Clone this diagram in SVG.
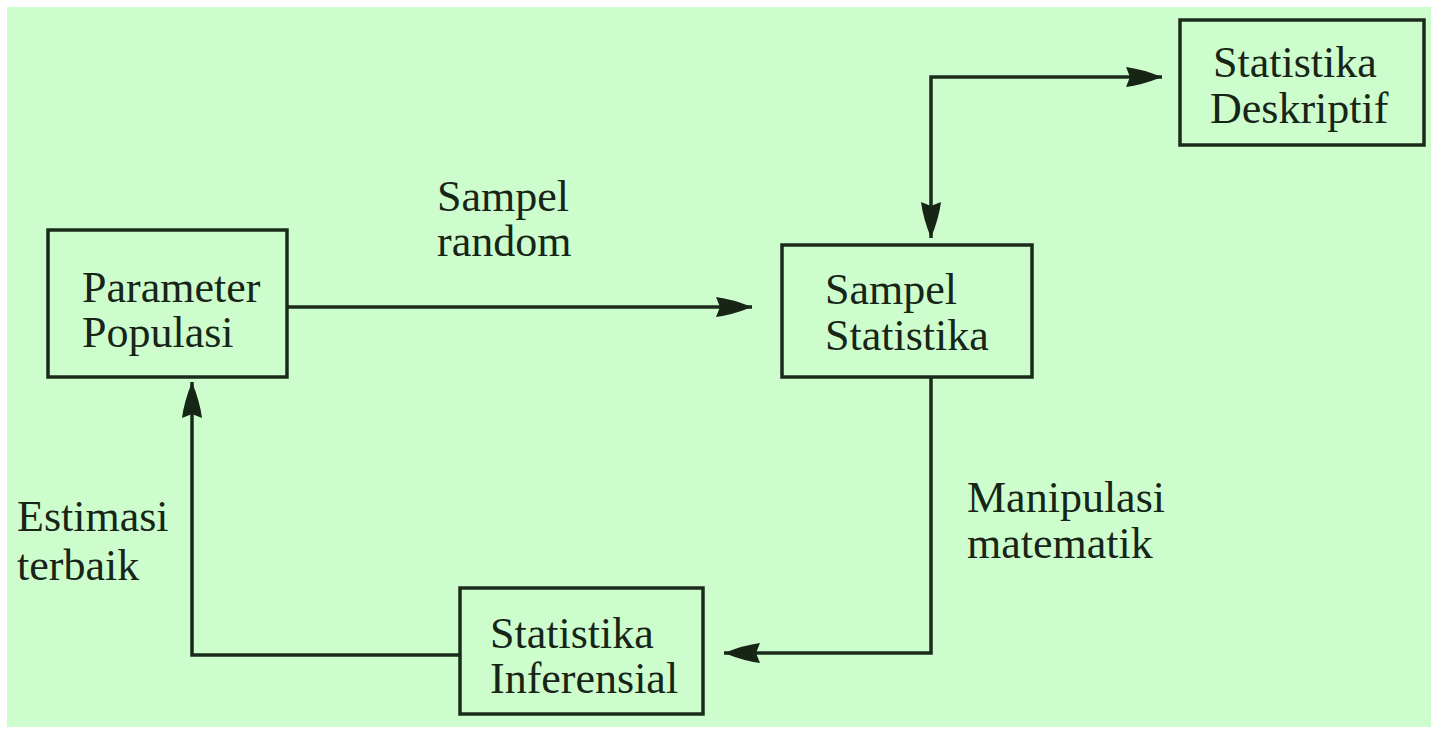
<svg xmlns="http://www.w3.org/2000/svg" width="1431" height="732" viewBox="0 0 1431 732">
<defs>
<style>
.box{fill:none;stroke:#1b2b1b;stroke-width:3.5}
.t{font-family:"Liberation Serif","Times New Roman",serif;font-size:44px;fill:#172517}
.c{fill:none;stroke:#1b2b1b;stroke-width:3.5;stroke-linejoin:miter}
</style>
<marker id="ah" markerUnits="userSpaceOnUse" markerWidth="40" markerHeight="26" viewBox="-38 -13 40 26" refX="0" refY="0" orient="auto-start-reverse">
<path d="M0,0 Q-20,-8 -36,-10 L-32,0 L-36,10 Q-20,8 0,0 Z" fill="#172517"/>
</marker>
</defs>
<rect x="0" y="0" width="1431" height="732" fill="#ffffff"/>
<rect x="7" y="7" width="1424" height="720" fill="#cdfdcd"/>
<g id="connectors">
<path class="c" d="M287,307 H752" marker-end="url(#ah)"/>
<path class="c" d="M931,238 V77 H1162" marker-start="url(#ah)" marker-end="url(#ah)"/>
<path class="c" d="M931,377 V653 H724" marker-end="url(#ah)"/>
<path class="c" d="M460,655 H192 V382" marker-end="url(#ah)"/>
</g>
<g id="node-parameter">
<rect class="box" x="48" y="230" width="239" height="147"/>
<text class="t" x="82" y="302">Parameter</text>
<text class="t" x="82" y="347">Populasi</text>
</g>
<g id="node-sampel">
<rect class="box" x="782" y="245" width="250" height="132"/>
<text class="t" x="825" y="304">Sampel</text>
<text class="t" x="825" y="350">Statistika</text>
</g>
<g id="node-deskriptif">
<rect class="box" x="1180" y="20" width="244" height="125"/>
<text class="t" x="1213" y="77">Statistika</text>
<text class="t" x="1210" y="123">Deskriptif</text>
</g>
<g id="node-inferensial">
<rect class="box" x="460" y="588" width="243" height="126"/>
<text class="t" x="490" y="648">Statistika</text>
<text class="t" x="490" y="693">Inferensial</text>
</g>
<g id="labels">
<text class="t" x="437" y="211">Sampel</text>
<text class="t" x="437" y="256">random</text>
<text class="t" x="967" y="512">Manipulasi</text>
<text class="t" x="967" y="558">matematik</text>
<text class="t" x="17" y="531">Estimasi</text>
<text class="t" x="17" y="580">terbaik</text>
</g>
</svg>
